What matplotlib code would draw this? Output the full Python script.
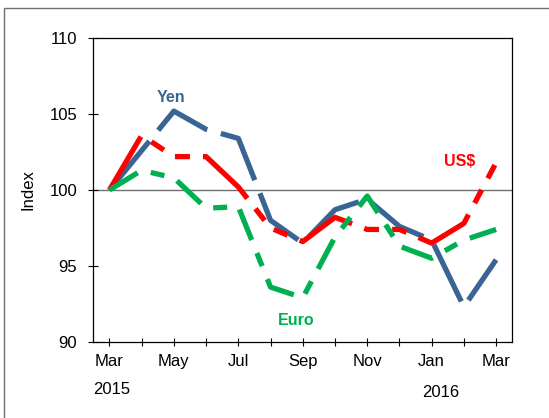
import matplotlib
matplotlib.use("Agg")
import matplotlib.pyplot as plt
import matplotlib.transforms as mtransforms
from matplotlib.patches import Rectangle

plt.rcParams['font.family'] = ['Liberation Sans', 'DejaVu Sans']
plt.rcParams['lines.scale_dashes'] = False

# monthly index, Mar 2015 = 100
months = ['Mar', 'Apr', 'May', 'Jun', 'Jul', 'Aug', 'Sep',
          'Oct', 'Nov', 'Dec', 'Jan', 'Feb', 'Mar']
tick_labels = ['Mar', '', 'May', '', 'Jul', '', 'Sep', '', 'Nov', '', 'Jan', '', 'Mar']
yen = [100, 102.6, 105.2, 104.0, 103.4, 98.0, 96.5, 98.7, 99.4, 97.6, 96.7, 92.3, 95.4]
usd = [100, 103.6, 102.2, 102.2, 100.2, 97.5, 96.6, 98.2, 97.4, 97.4, 96.5, 97.8, 101.8]
euro = [100, 101.3, 100.8, 98.8, 98.9, 93.6, 92.9, 96.9, 99.6, 96.3, 95.5, 96.7, 97.4]

BLUE = '#3a6494'
RED = '#ff0000'
GREEN = '#00b050'

fig = plt.figure(figsize=(5.49, 4.18), dpi=100)
ax = fig.add_axes([0.170, 0.1825, 0.763, 0.7259])

x = list(range(len(months)))
lw = 3.8
ax.plot(x, yen, color=BLUE, lw=lw, dashes=(45.4, 10.1), solid_capstyle='butt', dash_capstyle='butt')
ax.plot(x, usd, color=RED, lw=lw, dashes=(44.6, 9.4, 10.8, 9.4, 10.8, 9.4), dash_capstyle='butt')
ax.plot(x, euro, color=GREEN, lw=lw, dashes=(23.8, 10.1, 10.1, 10.1), dash_capstyle='butt')

ax.axhline(100, color='#6f6f6f', lw=1.0, zorder=1)

ax.set_xlim(-0.5, 12.5)
ax.set_ylim(90, 110)
ax.set_yticks([90, 95, 100, 105, 110])
ax.set_xticks(x)
ax.set_xticklabels(tick_labels)
ax.tick_params(axis='y', direction='inout', length=7, width=0.8, labelsize=12, pad=8)
ax.tick_params(axis='x', direction='inout', length=5.5, width=0.8, labelsize=12, pad=6)
for s in ax.spines.values():
    s.set_linewidth(0.9)

# series labels
ax.text(1.91, 106.07, 'Yen', color=BLUE, fontsize=11.5, fontweight='bold', ha='center', va='center')
ax.text(10.86, 101.91, 'US$', color=RED, fontsize=11.5, fontweight='bold', ha='center', va='center')
ax.text(5.81, 91.38, 'Euro', color=GREEN, fontsize=11.5, fontweight='bold', ha='center', va='center')

# year labels under the month axis
trans = mtransforms.blended_transform_factory(ax.transData, ax.transAxes)
ax.text(0.08, -0.158, '2015', transform=trans, fontsize=12, ha='center', va='center')
ax.text(10.27, -0.169, '2016', transform=trans, fontsize=12, ha='center', va='center')

fig.text(28 / 549, 1 - 190 / 418, 'Index', rotation=90, fontsize=12, ha='center', va='center')

# chart frame (cropped at right and bottom)
fig.patches.append(Rectangle((3.5 / 549, -0.1), 1.2, 1.1 - 8 / 418, transform=fig.transFigure,
                             fill=False, edgecolor='#707070', lw=1.0))

fig.savefig('out.png', dpi=100)
